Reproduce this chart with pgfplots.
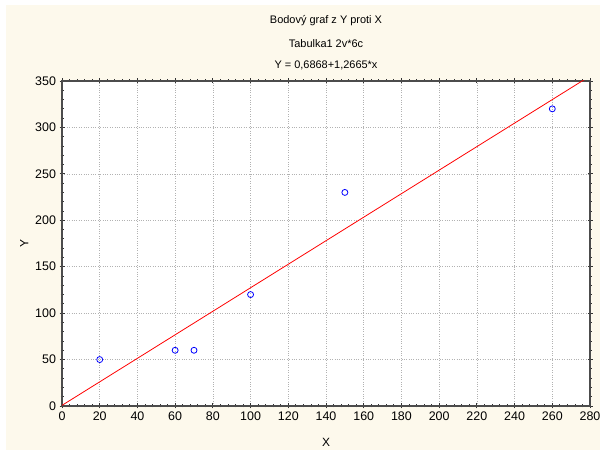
\documentclass[border=0pt]{standalone}
\usepackage{pgfplots}
\pgfplotsset{compat=1.18}
\usepackage{fontspec}
\setmainfont{Liberation Sans}
\definecolor{cream}{HTML}{FDF9EC}
\begin{document}
\begin{tikzpicture}[x=1bp,y=1bp]
\fill[white] (0,0) rectangle (604,455);
\fill[cream] (6,5) rectangle (600,450);
\begin{axis}[
  at={(62bp,49bp)}, anchor=south west,
  scale only axis, width=528bp, height=325bp,
  xmin=0, xmax=280, ymin=0, ymax=350,
  xtick={0,20,...,280}, ytick={0,50,...,350},
  minor x tick num=4, minor y tick num=4,
  axis background/.style={fill=white},
  axis line style={draw=black!70, line width=1.2pt},
  tick align=center,
  major tick length=5bp, minor tick length=3bp,
  tick style={black!80, line width=0.8pt},
  grid=major,
  major grid style={gray!60, dotted, line width=0.6pt},
  ticklabel style={font=\fontsize{12.5}{14}\selectfont},
  /pgf/number format/assume math mode=true,
  xlabel={X}, ylabel={Y},
  label style={font=\fontsize{12}{14}\selectfont},
  xlabel style={yshift=-11bp},
  clip=true,
]
\addplot[red, line width=0.8pt] coordinates {(0,0.6868) (280,355.3068)};
\addplot[only marks, mark=o, blue, mark size=3bp, line width=0.8pt] coordinates {
(20,50) (60,60) (70,60) (100,120) (150,230) (260,320)};
\end{axis}
\node[font=\fontsize{11}{13}\selectfont] at (326,434) {Bodový graf z Y proti X};
\node[font=\fontsize{11}{13}\selectfont] at (326,411.5) {Tabulka1 2v*6c};
\node[font=\fontsize{11}{13}\selectfont] at (326,389.5) {Y = 0,6868+1,2665*x};
\end{tikzpicture}
\end{document}
